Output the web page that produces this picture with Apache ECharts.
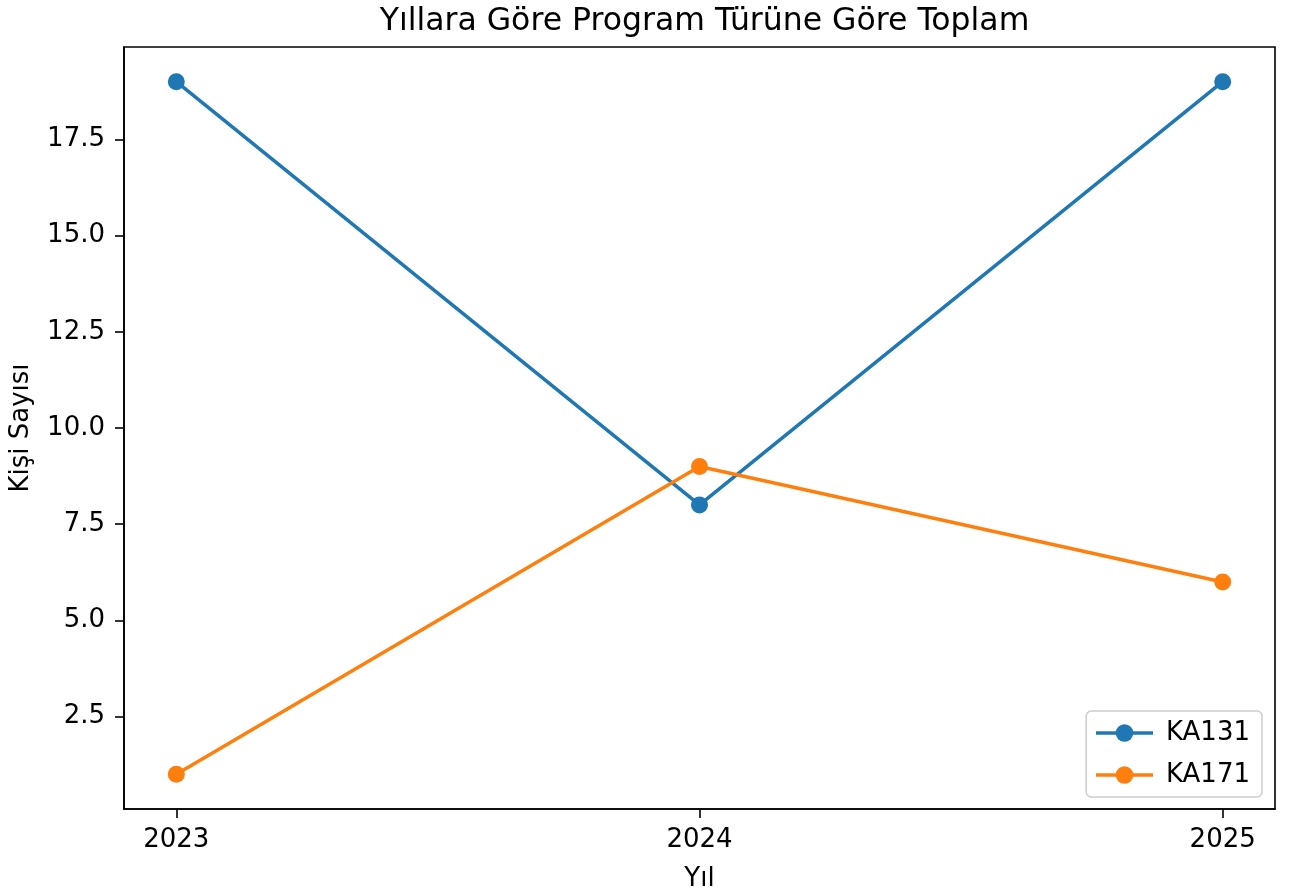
<!DOCTYPE html>
<html><head><meta charset="utf-8">
<script src="https://cdn.jsdelivr.net/npm/echarts@6/dist/echarts.min.js"></script>
<style>html,body{margin:0;padding:0;background:#fff}#c{width:1291px;height:892px}</style>
</head><body><div id="c"></div>
<script>
const years = [2023, 2024, 2025];
const ka131 = [19, 8, 19];
const ka171 = [1, 9, 6];
const yTicks = [2.5, 5, 7.5, 10, 12.5, 15, 17.5];
const seriesNames = ['KA131', 'KA171'];
const titleText = 'Yıllara Göre Program Türüne Göre Toplam';
const xName = 'Yıl';
const yName = 'Kişi Sayısı';

const font = 'DejaVu Sans';
const chart = echarts.init(document.getElementById('c'), null, {renderer: 'canvas'});
const mk = (name, vals, color) => ({
  name, type: 'line',
  data: years.map((y, i) => [y, vals[i]]),
  symbol: 'circle', symbolSize: 17,
  lineStyle: {width: 3.5, color},
  itemStyle: {color},
  emphasis: {disabled: true},
  animation: false
});
chart.setOption({
  animation: false,
  textStyle: {fontFamily: font},
  title: {text: titleText, left: 699.5, textAlign: 'center', top: 1,
    textStyle: {fontFamily: font, fontSize: 31.5, fontWeight: 'normal', color: '#000'}},
  grid: {left: 124, right: 16, top: 47, bottom: 83, outerBoundsMode: 'none', containLabel: false,
    show: true, borderColor: '#000', borderWidth: 1.6, backgroundColor: 'transparent'},
  legend: {
    orient: 'vertical', right: 29, bottom: 95,
    data: seriesNames,
    itemWidth: 57, itemHeight: 22, itemGap: 16,
    padding: [9, 12, 9, 8],
    lineStyle: {width: 3.5},
    borderColor: '#cccccc', borderWidth: 1.5, borderRadius: 5, backgroundColor: '#fff',
    textStyle: {fontFamily: font, fontSize: 26, color: '#000', padding: [0, 0, 0, 8]}
  },
  xAxis: {
    type: 'value', min: 2022.9, max: 2025.1,
    name: xName, nameLocation: 'middle', nameGap: 57,
    nameTextStyle: {fontFamily: font, fontSize: 26, color: '#000'},
    axisLine: {show: true, onZero: false, lineStyle: {color: '#000', width: 1.6}},
    axisTick: {show: true, length: 9, lineStyle: {color: '#000', width: 1.6}, customValues: years},
    axisLabel: {customValues: years, fontFamily: font, fontSize: 26, color: '#000', margin: 18, formatter: v => String(v)},
    splitLine: {show: false}
  },
  yAxis: {
    type: 'value', min: 0.1, max: 19.9,
    name: yName, nameLocation: 'middle', nameGap: 90, nameRotate: 90,
    nameTextStyle: {fontFamily: font, fontSize: 26, color: '#000'},
    axisLine: {show: true, onZero: false, lineStyle: {color: '#000', width: 1.6}},
    axisTick: {show: true, length: 9, lineStyle: {color: '#000', width: 1.6}, customValues: yTicks},
    axisLabel: {customValues: yTicks, fontFamily: font, fontSize: 26, color: '#000', margin: 19, formatter: v => v.toFixed(1)},
    splitLine: {show: false}
  },
  series: [mk(seriesNames[0], ka131, '#1f77b4'), mk(seriesNames[1], ka171, '#ff7f0e')]
});
</script></body></html>
